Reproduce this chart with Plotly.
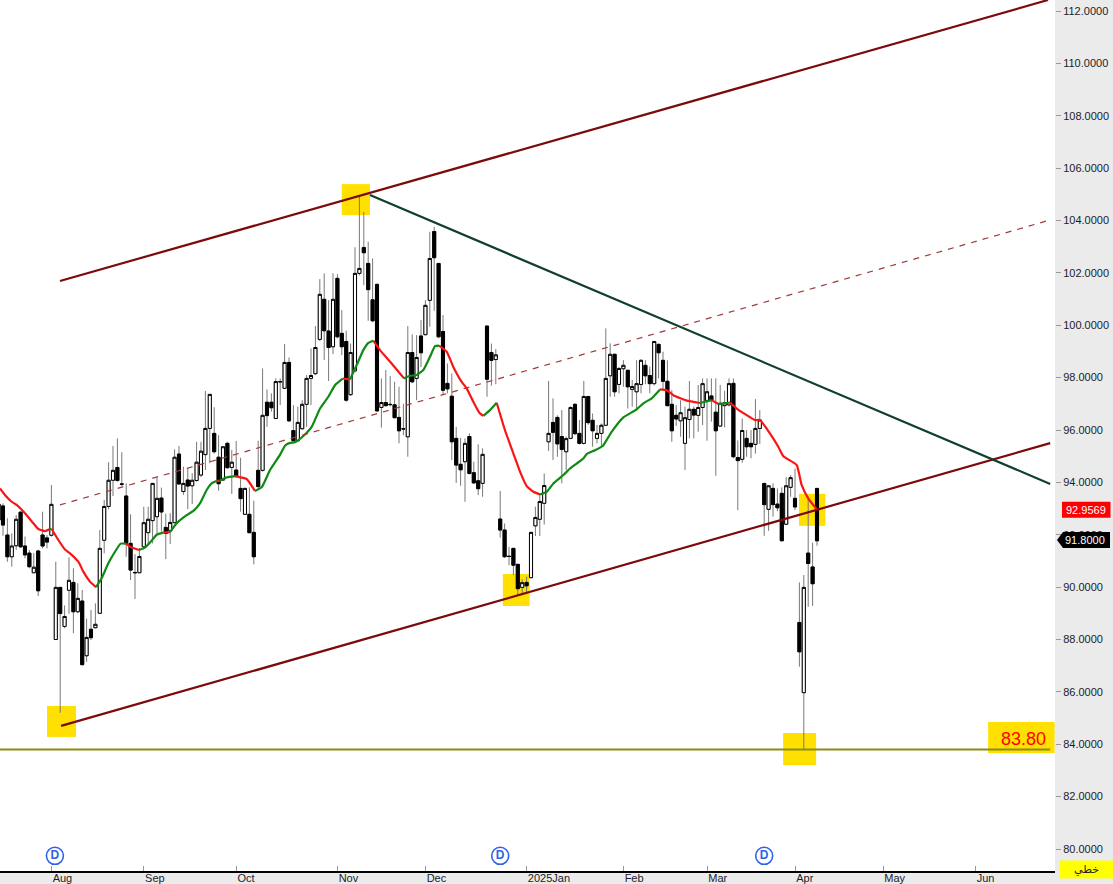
import plotly.graph_objects as go

bar_number = list(range(-1, 186))

open_price = [
 93.17,93.10,91.99,91.16,91.58,92.86,91.57,91.30,90.55,91.38,
 91.99,91.88,91.98,88.00,89.99,88.50,89.88,90.18,89.06,89.47,
 87.38,88.39,88.45,89.00,91.79,93.08,94.08,94.57,93.94,93.48,
 91.67,90.56,90.55,91.54,92.08,92.54,92.69,93.40,92.28,92.15,
 92.46,95.08,93.65,94.09,93.87,94.07,94.28,95.06,96.06,95.87,
 94.96,94.09,95.49,94.57,94.47,93.77,92.78,92.78,92.09,94.46,
 94.46,97.06,97.06,96.44,97.85,97.59,98.58,95.98,95.59,96.05,
 96.98,97.97,98.15,99.46,100.99,99.78,99.18,101.79,99.69,99.38,
 97.35,98.26,101.98,102.97,102.36,100.97,101.56,96.86,97.05,96.98,
 96.96,96.48,96.05,95.74,98.96,97.97,99.59,99.64,100.95,103.58,
 102.36,99.76,97.78,97.29,95.68,94.69,94.79,95.75,94.37,94.06,
 93.96,99.97,98.96,98.69,92.60,92.18,91.18,91.48,90.87,89.99,
 90.18,90.36,92.34,92.59,93.20,95.55,96.29,96.48,95.75,95.17,
 95.68,96.98,95.87,95.49,97.28,96.37,95.68,95.87,96.18,98.07,
 98.89,97.74,98.34,98.28,97.55,97.46,97.74,98.47,98.08,97.77,
 99.27,98.66,97.86,96.98,96.56,96.35,95.49,96.40,96.79,96.56,
 96.86,97.13,97.30,96.68,96.15,96.93,96.96,97.78,94.95,94.88,
 95.68,95.49,95.45,96.06,93.96,92.97,93.77,93.17,93.58,92.40,
 93.81,93.39,88.65,85.97,91.30,90.77,93.77]

high_price = [
 93.30,93.20,92.63,92.05,92.75,92.90,91.93,91.42,91.30,91.42,
 92.88,91.99,93.90,90.97,90.00,89.30,91.14,90.72,90.15,89.89,
 88.80,89.13,89.38,92.18,93.33,94.77,95.39,95.68,95.15,93.96,
 92.78,91.26,91.50,93.07,93.07,93.96,94.20,93.80,92.80,92.82,
 95.26,95.39,94.60,94.54,94.35,95.55,95.55,97.49,97.36,96.87,
 95.80,95.36,95.55,95.24,95.58,94.94,93.80,93.81,93.30,95.59,
 98.35,97.55,97.40,97.97,97.97,99.28,98.77,96.95,96.89,97.14,
 98.10,99.11,99.97,101.76,101.98,100.96,101.98,101.95,100.58,99.79,
 99.30,102.98,104.95,104.33,103.19,102.55,101.60,97.97,98.29,98.06,
 97.84,97.65,97.00,99.97,99.65,99.62,100.20,100.96,103.57,103.76,
 102.36,100.39,98.54,98.16,96.12,95.70,95.68,95.87,94.79,95.45,
 95.30,99.97,99.30,99.09,93.67,92.43,91.54,91.48,90.87,90.30,
 90.40,92.09,93.07,93.58,94.34,97.87,97.21,96.56,96.76,95.75,
 96.90,97.02,96.38,97.87,97.30,96.63,96.19,96.25,99.88,99.31,
 98.92,98.40,98.67,98.30,97.91,98.67,98.70,98.67,98.42,99.40,
 99.30,98.99,98.66,97.52,96.95,97.14,96.89,97.87,96.90,97.72,
 97.97,97.97,97.97,97.97,97.72,97.50,97.97,97.97,95.60,96.44,
 96.00,96.00,97.18,96.76,93.96,93.90,93.96,93.77,93.81,94.20,
 94.28,94.53,90.18,90.46,93.45,91.70,93.77]

low_price = [
 92.20,91.96,90.97,90.78,91.42,91.50,91.10,90.72,90.53,89.66,
 91.48,91.48,91.93,87.98,85.20,88.43,88.99,88.24,89.00,87.00,
 87.15,87.98,88.43,89.00,91.29,92.97,93.48,94.03,93.86,91.16,
 90.27,89.55,90.53,91.50,91.67,91.67,92.05,92.12,91.07,91.65,
 92.44,93.90,93.52,92.98,93.17,94.03,94.20,94.47,94.73,95.10,
 93.68,94.09,94.53,93.56,94.19,92.88,92.76,92.05,90.87,93.71,
 94.41,96.12,96.70,96.44,96.95,97.59,96.30,95.55,95.55,96.00,
 96.12,96.95,98.10,99.40,98.67,97.87,98.90,99.50,98.86,97.08,
 97.30,98.20,101.90,101.53,100.17,100.12,96.70,96.09,96.90,96.90,
 96.45,95.49,95.80,94.98,97.80,97.14,98.40,99.62,99.94,100.55,
 99.50,97.33,97.40,94.85,93.98,93.87,93.26,94.30,93.95,93.51,
 93.45,97.27,97.69,97.75,91.89,91.12,90.84,90.46,89.70,89.73,
 89.82,90.34,91.95,91.95,92.39,95.20,94.85,94.98,93.96,94.47,
 95.65,95.80,95.45,95.45,96.20,95.36,95.49,95.36,96.15,97.27,
 97.27,97.40,97.65,96.82,96.89,96.76,97.40,97.75,97.40,97.70,
 97.97,97.52,96.90,95.55,96.15,95.74,94.47,95.68,95.68,95.93,
 96.19,95.59,96.32,94.25,96.13,96.10,96.90,94.92,92.94,94.75,
 94.98,94.92,95.10,95.46,91.96,92.15,92.69,92.90,91.77,92.38,
 93.45,92.94,86.96,83.78,89.25,89.28,91.58]

close_price = [
 92.56,92.37,91.16,91.57,92.59,91.54,91.23,90.78,90.76,89.86,
 91.57,91.72,93.16,89.99,88.99,88.88,90.26,89.06,89.57,87.04,
 88.08,88.07,88.58,91.48,93.08,94.08,94.46,94.07,93.93,91.67,
 90.65,90.55,91.17,92.46,92.59,93.96,93.39,92.87,92.05,92.47,
 94.96,93.94,93.96,93.86,94.08,94.77,95.19,96.06,97.36,95.17,
 93.95,95.36,94.56,94.77,94.24,93.38,93.77,92.08,91.16,93.84,
 96.56,96.55,96.85,97.85,97.84,98.58,96.35,95.59,96.29,96.98,
 97.97,98.08,99.15,101.18,99.79,99.15,100.99,99.56,99.18,97.14,
 98.96,101.98,102.17,102.77,101.36,100.17,96.73,97.05,96.93,96.97,
 96.47,95.97,96.04,98.96,97.84,98.77,98.95,100.76,102.55,102.58,
 99.56,97.52,97.57,95.55,94.66,94.48,95.49,94.34,93.98,93.76,
 95.07,97.94,98.66,98.87,92.18,91.16,91.17,90.84,89.94,90.17,
 90.05,92.09,92.66,93.27,93.88,95.87,95.91,95.47,95.26,95.67,
 96.86,95.86,95.49,97.28,96.28,95.97,95.87,96.18,97.97,98.89,
 97.46,98.35,98.47,97.65,97.66,97.77,98.66,98.07,97.77,99.38,
 98.95,97.86,96.93,95.97,96.42,96.66,96.47,96.79,96.57,96.86,
 97.77,97.46,97.14,95.97,97.02,97.04,97.77,94.98,94.83,95.98,
 95.36,95.36,96.06,96.38,93.15,93.87,93.15,93.03,91.77,93.87,
 94.18,93.06,87.53,89.99,90.90,90.13,91.77]

month_bars = [11, 32, 53, 76, 96, 119, 141, 160, 180, 200, 221]
month_labels = ["Aug", "Sep", "Oct", "Nov", "Dec", "2025Jan", "Feb", "Mar", "Apr", "May", "Jun"]
price_ticks = [80, 82, 84, 86, 88, 90, 92, 94, 96, 98, 100, 102, 104, 106, 108, 110, 112]

ma_red_x = [-0.68,0.45,1.97,3.11,5,6.89,8.03,9.55,10.68,None,11.06,12.58,14.09,15.23,17.12,18.26,19.77,21.14,None,
 27.95,29.24,30.91,None,36.44,37.95,None,48.56,49.32,None,52.73,55.38,57.27,None,77.2,78.86,None,
 84.16,85.68,88.33,91.14,None,99.09,100.83,102.35,104.24,105.38,106.89,108.26,109.17,None,
 112.2,114.09,115.98,117.5,119.02,120.53,122.05,None,149.32,150.83,152.35,155.39,158.41,None,161.06,162.58,None,
 165.23,166.75,169.02,170.91,172.05,174.3,176.2,177.35,180.4,181.5,183.0,185]
ma_red_y = [93.77,93.52,93.26,93.14,92.82,92.44,92.22,92.14,92.22,None,92.22,91.8,91.44,91.29,90.97,90.59,90.21,90.0,None,
 91.66,91.51,91.42,None,92.08,92.1,None,94.05,94.07,None,94.24,94.13,93.67,None,97.96,97.93,None,
 99.41,99.05,98.54,97.97,None,99.22,98.99,98.41,97.84,97.59,97.08,96.66,96.54,None,
 97.04,95.99,95.11,94.41,93.86,93.64,93.54,None,97.55,97.52,97.33,97.12,97.03,None,97.14,96.99,None,
 97.05,96.82,96.57,96.38,96.38,95.87,95.36,95.0,94.66,93.9,93.39,92.9569]

ma_green_x = [10.68,11.06,None,21.14,22.42,23.94,25.45,26.74,27.95,None,30.91,32.27,33.41,34.92,36.44,None,
 37.95,39.47,41.74,43.26,44.77,46.29,47.42,48.56,None,49.32,50.83,52.73,None,57.27,58.79,60.68,62.95,64.09,65.23,66.36,68.26,70.15,72.05,73.94,75.45,77.2,None,
 78.86,80.38,81.89,83.03,84.16,None,91.14,92.5,94.0,95.53,97.05,98.18,99.09,None,109.17,110.68,112.2,None,
 122.05,123.56,125.08,127.35,128.86,130.38,131.89,132.65,134.55,136.3,138.33,141,144.02,145.53,147.43,149.32,None,
 158.41,161.06,None,162.58,165.23]
ma_green_y = [92.22,92.22,None,90.0,90.34,90.91,91.35,91.66,91.66,None,91.42,91.51,91.7,92.0,92.08,None,
 92.1,92.44,92.75,92.91,93.2,93.71,93.96,94.05,None,94.07,94.19,94.24,None,93.67,93.81,94.47,95.05,95.4,95.51,95.53,95.77,96.12,96.82,97.27,97.71,97.96,None,
 97.93,98.48,99.05,99.33,99.41,None,97.97,98.07,98.1,98.29,98.8,99.2,99.22,None,96.54,96.76,97.04,None,
 93.54,93.64,93.96,94.28,94.53,94.72,94.91,95.08,95.23,95.39,95.93,96.48,96.79,97.02,97.21,97.55,None,
 97.03,97.14,None,96.99,97.05]

upper_channel_x, upper_channel_y = [12.95, 237.5], [101.69, 112.42]
lower_channel_x, lower_channel_y = [13.2, 238.0], [84.70, 95.50]
middle_channel_x, middle_channel_y = [12.95, 238.0], [93.14, 104.02]
falling_line_x, falling_line_y = [83.4, 238.0], [104.97, 93.94]
support_x, support_y = [-0.68, 238.0], [83.80, 83.80]

dividend_bars = [11.8, 113, 173]
dividend_levels = [79.74, 79.74, 79.74]
dividend_labels = ["D", "D", "D"]

highlight_boxes = [
    (77.0, 83.4, 104.21, 105.39),
    (10.0, 16.6, 84.28, 85.46),
    (113.6, 119.7, 89.28, 90.50),
    (180.9, 186.9, 92.34, 93.56),
    (177.3, 184.8, 83.21, 84.43),
    (223.9, 239.0, 83.67, 84.85),
]

YELLOW = "#ffe000"
FONT = "Liberation Sans"

fig = go.Figure()

fig.add_trace(go.Candlestick(
    x=bar_number, open=open_price, high=high_price, low=low_price, close=close_price,
    increasing=dict(line=dict(color="#787878", width=1), fillcolor="#ffffff"),
    decreasing=dict(line=dict(color="#787878", width=1), fillcolor="#000000"),
    showlegend=False, hoverinfo="skip"))

body_top = [max(o, c) for o, c in zip(open_price, close_price)]
body_bottom = [min(o, c) for o, c in zip(open_price, close_price)]
fig.add_trace(go.Candlestick(
    x=bar_number, open=open_price, high=body_top, low=body_bottom, close=close_price,
    increasing=dict(line=dict(color="#000000", width=1), fillcolor="#ffffff"),
    decreasing=dict(line=dict(color="#000000", width=1), fillcolor="#000000"),
    showlegend=False, hoverinfo="skip"))

fig.add_trace(go.Scatter(x=ma_red_x, y=ma_red_y, mode="lines", showlegend=False,
                         line=dict(color="#fb1414", width=2.2, shape="spline", smoothing=0.4)))
fig.add_trace(go.Scatter(x=ma_green_x, y=ma_green_y, mode="lines", showlegend=False,
                         line=dict(color="#0f8a14", width=2.2, shape="spline", smoothing=0.4)))

for xs, ys, color, width, dash in [
    (upper_channel_x, upper_channel_y, "#7c0a0a", 2.2, "solid"),
    (lower_channel_x, lower_channel_y, "#7c0a0a", 2.2, "solid"),
    (middle_channel_x, middle_channel_y, "#a23a3a", 1.2, "6px,6px"),
    (falling_line_x, falling_line_y, "#103f30", 2.2, "solid"),
    (support_x, support_y, "#8c8c14", 2, "solid"),
]:
    fig.add_trace(go.Scatter(x=xs, y=ys, mode="lines", showlegend=False,
                             line=dict(color=color, width=width, dash=dash)))

fig.add_trace(go.Scatter(
    x=dividend_bars, y=dividend_levels, text=dividend_labels, mode="markers+text",
    textposition="middle center", showlegend=False,
    marker=dict(symbol="circle", size=17, color="#ffffff", line=dict(color="#2f62e6", width=1.6)),
    textfont=dict(family=FONT, size=12, color="#2f62e6", weight="bold")))

shapes = [dict(type="rect", layer="below", xref="x", yref="y", x0=a, x1=b, y0=c, y1=d,
               fillcolor=YELLOW, line=dict(width=0)) for a, b, c, d in highlight_boxes]
shapes += [
    dict(type="path", xref="paper", yref="y", xsizemode="pixel", ysizemode="pixel",
         xanchor=1.0, yanchor=92.9569, path="M 7 -8 L 55.5 -8 L 55.5 8 L 7 8 Z",
         fillcolor="#ff0000", line=dict(width=0)),
    dict(type="path", xref="paper", yref="y", xsizemode="pixel", ysizemode="pixel",
         xanchor=1.0, yanchor=91.8, path="M 2 0 L 8 -8 L 55 -8 L 55 8 L 8 8 Z",
         fillcolor="#000000", line=dict(width=0)),
    dict(type="path", xref="paper", yref="paper", xsizemode="pixel", ysizemode="pixel",
         xanchor=1.0, yanchor=0.0, path="M 5 -7.5 L 58 -7.5 L 58 10.5 L 5 10.5 Z",
         fillcolor="#ffff00", line=dict(width=0)),
]

annotations = [
    dict(xref="paper", yref="y", x=1.0, y=92.9569, xshift=31, xanchor="center", yanchor="middle",
         text="92.9569", showarrow=False, font=dict(family=FONT, size=11, color="#ffffff")),
    dict(xref="paper", yref="y", x=1.0, y=91.8, xshift=30, xanchor="center", yanchor="middle",
         text="91.8000", showarrow=False, font=dict(family=FONT, size=11, color="#ffffff")),
    dict(xref="x", yref="y", x=231.9, y=84.2, xanchor="center", yanchor="middle",
         text="83.80", showarrow=False, font=dict(family=FONT, size=18, color="#ff0000")),
    dict(xref="paper", yref="paper", x=1.0, y=0.0, xshift=31, yshift=2, xanchor="center", yanchor="middle",
         text="خطي", showarrow=False, font=dict(family="DejaVu Sans", size=11, color="#222222")),
]

fig.update_layout(
    width=1113, height=884,
    margin=dict(l=0, r=58, t=0, b=9),
    boxmode="overlay", boxgap=0.3, boxgroupgap=0,
    paper_bgcolor="#ebebeb", plot_bgcolor="#ffffff",
    showlegend=False, shapes=shapes, annotations=annotations,
    font=dict(family=FONT, size=11, color="#1c1c2a"),
    xaxis=dict(range=[-0.68, 239.09], rangeslider=dict(visible=False), tickmode="array",
               tickvals=month_bars, ticktext=month_labels, ticks="inside", ticklen=5, tickwidth=1,
               tickcolor="#999999", ticklabelposition="outside right", ticklabelstandoff=-4,
               showgrid=False, zeroline=False, showline=True, linecolor="#000000", linewidth=1.5),
    yaxis=dict(range=[79.16, 112.42], side="right", tickmode="array", tickvals=price_ticks,
               ticktext=[f"{v:.4f}" for v in price_ticks], ticks="outside", ticklen=5, tickwidth=1,
               tickcolor="#999999", showgrid=False, zeroline=False, showline=False),
)

for name, values in [("open", open_price), ("high", high_price), ("low", low_price), ("close", close_price)]:
    assert len(values) == len(bar_number), (name, len(values))

fig.write_html("out.html", config={"displayModeBar": False},
               post_script="document.body.style.margin='0';")
